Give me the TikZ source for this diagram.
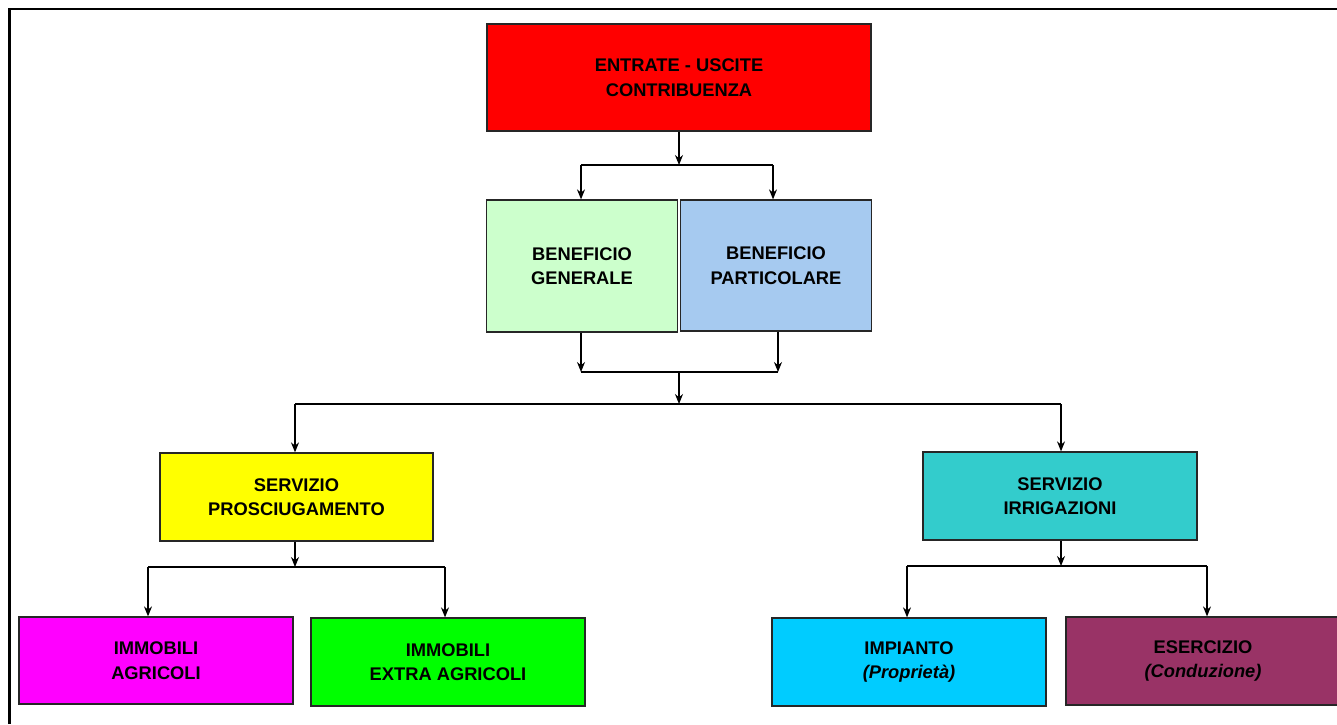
\documentclass[tikz,border=0pt]{standalone}
\usepackage{fontspec}
\setmainfont{Liberation Sans}
\usetikzlibrary{arrows.meta}
\definecolor{cred}{HTML}{FF0000}
\definecolor{cpalegreen}{HTML}{CCFFCC}
\definecolor{cpaleblue}{HTML}{A6CAF0}
\definecolor{cyellow}{HTML}{FFFF00}
\definecolor{cteal}{HTML}{33CCCC}
\definecolor{cmagenta}{HTML}{FF00FF}
\definecolor{cgreen}{HTML}{00FF00}
\definecolor{ccyan}{HTML}{00CCFF}
\definecolor{cplum}{HTML}{993366}
\tikzset{
box/.style={
  draw=black!85,
  line width=1.3pt,
  rectangle,
  align=center,
  inner sep=0pt,
  minimum width=274pt,
  minimum height=88pt,
  font=\bfseries\fontsize{18.3}{24.5}\selectfont
},
link/.style={line width=1.2pt},
arrow/.style={link,-{Stealth[length=10pt,width=8pt]}}
}
\begin{document}
\begin{tikzpicture}[x=1pt,y=-1pt]
\useasboundingbox (0,0) rectangle (1337,724);
% the frame
\draw[line width=2.5pt] (9.5,724) -- (9.5,9) -- (1337,9);
% the boxes
\node[box,fill=cred,minimum width=384pt,minimum height=107pt] (entr) at (679,77.5) {ENTRATE - USCITE\\CONTRIBUENZA};
\node[box,fill=cpalegreen,minimum width=191pt,minimum height=132pt] (gen) at (582,266) {BENEFICIO\\GENERALE};
\node[box,fill=cpaleblue,minimum width=191pt,minimum height=131pt] (part) at (776,265.5) {BENEFICIO\\PARTICOLARE};
\node[box,fill=cyellow,minimum width=273pt] (prosc) at (296.5,497) {SERVIZIO\\PROSCIUGAMENTO};
\node[box,fill=cteal] (irr) at (1060,496) {SERVIZIO\\IRRIGAZIONI};
\node[box,fill=cmagenta,minimum height=87pt] (agr) at (156,660.5) {IMMOBILI\\AGRICOLI};
\node[box,fill=cgreen] (extra) at (448,662) {IMMOBILI\\EXTRA AGRICOLI};
\node[box,fill=ccyan] (imp) at (909,662) {IMPIANTO\\\textit{(Proprietà)}};
\node[box,fill=cplum] (eser) at (1203,661) {ESERCIZIO\\\textit{(Conduzione)}};
% the junctions
\coordinate (top-c) at (679,165);
\coordinate (top-l) at (581,165);
\coordinate (top-r) at (773,165);
\coordinate (mid-l) at (581,372);
\coordinate (mid-r) at (778,372);
\coordinate (mid-c) at (679,372);
\coordinate (srv-c) at (679,404);
\coordinate (srv-l) at (295,404);
\coordinate (srv-r) at (1061,404);
\coordinate (pro-c) at (295,567);
\coordinate (pro-l) at (148,567);
\coordinate (pro-r) at (445,567);
\coordinate (irr-c) at (1061,566);
\coordinate (irr-l) at (907,566);
\coordinate (irr-r) at (1207,566);
% the connectors
\draw[arrow] (entr.south) -- (top-c);
\draw[link] (top-l) -- (top-r);
\draw[arrow] (top-l) -- (top-l |- gen.north);
\draw[arrow] (top-r) -- (top-r |- part.north);
\draw[arrow] (mid-l |- gen.south) -- (mid-l);
\draw[arrow] (mid-r |- part.south) -- (mid-r);
\draw[link] (mid-l) -- (mid-r);
\draw[arrow] (mid-c) -- (srv-c);
\draw[link] (srv-l) -- (srv-r);
\draw[arrow] (srv-l) -- (srv-l |- prosc.north);
\draw[arrow] (srv-r) -- (srv-r |- irr.north);
\draw[arrow] (pro-c |- prosc.south) -- (pro-c);
\draw[link] (pro-l) -- (pro-r);
\draw[arrow] (pro-l) -- (pro-l |- agr.north);
\draw[arrow] (pro-r) -- (pro-r |- extra.north);
\draw[arrow] (irr-c |- irr.south) -- (irr-c);
\draw[link] (irr-l) -- (irr-r);
\draw[arrow] (irr-l) -- (irr-l |- imp.north);
\draw[arrow] (irr-r) -- (irr-r |- eser.north);
\end{tikzpicture}
\end{document}
